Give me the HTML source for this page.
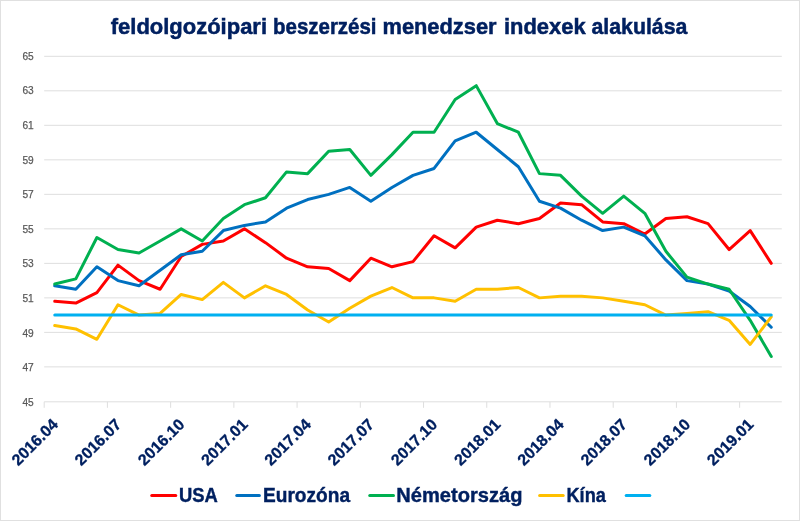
<!DOCTYPE html>
<html><head><meta charset="utf-8"><title>feldolgozóipari beszerzési menedzser indexek alakulása</title>
<style>
html,body{margin:0;padding:0;background:#fff;}
body{width:800px;height:521px;overflow:hidden;}
svg{display:block;font-family:"Liberation Sans",sans-serif;will-change:transform;}
.yl{font-size:11px;fill:#595959;stroke:#595959;stroke-width:0.25px;}
.xl{font-size:16px;font-weight:bold;fill:#002060;stroke:#002060;stroke-width:0.3px;}
.lg{font-size:20.5px;font-weight:bold;fill:#002060;stroke:#002060;stroke-width:0.4px;}
.tt{font-size:22.5px;font-weight:bold;fill:#002060;stroke:#002060;stroke-width:0.5px;}
</style></head><body>
<svg width="800" height="521" viewBox="0 0 800 521">
<rect x="0" y="0" width="800" height="521" fill="#fff"/>
<rect x="0.5" y="0.5" width="799" height="520" fill="none" stroke="#e0e0e0" stroke-width="1"/>
<text x="110.75" y="33.5" class="tt" textLength="156.26" lengthAdjust="spacingAndGlyphs">feldolgozóipari</text>
<text x="273.10" y="33.5" class="tt" textLength="103.43" lengthAdjust="spacingAndGlyphs">beszerzési</text>
<text x="382.50" y="33.5" class="tt" textLength="114.02" lengthAdjust="spacingAndGlyphs">menedzser</text>
<text x="504.00" y="33.5" class="tt" textLength="81.57" lengthAdjust="spacingAndGlyphs">indexek</text>
<text x="591.50" y="33.5" class="tt" textLength="95.81" lengthAdjust="spacingAndGlyphs">alakulása</text>
<line x1="44.20" y1="56.30" x2="781.80" y2="56.30" stroke="#dedede" stroke-width="1"/>
<line x1="44.20" y1="90.81" x2="781.80" y2="90.81" stroke="#dedede" stroke-width="1"/>
<line x1="44.20" y1="125.32" x2="781.80" y2="125.32" stroke="#dedede" stroke-width="1"/>
<line x1="44.20" y1="159.83" x2="781.80" y2="159.83" stroke="#dedede" stroke-width="1"/>
<line x1="44.20" y1="194.34" x2="781.80" y2="194.34" stroke="#dedede" stroke-width="1"/>
<line x1="44.20" y1="228.85" x2="781.80" y2="228.85" stroke="#dedede" stroke-width="1"/>
<line x1="44.20" y1="263.36" x2="781.80" y2="263.36" stroke="#dedede" stroke-width="1"/>
<line x1="44.20" y1="297.87" x2="781.80" y2="297.87" stroke="#dedede" stroke-width="1"/>
<line x1="44.20" y1="332.38" x2="781.80" y2="332.38" stroke="#dedede" stroke-width="1"/>
<line x1="44.20" y1="366.89" x2="781.80" y2="366.89" stroke="#dedede" stroke-width="1"/>
<line x1="44.20" y1="401.80" x2="781.80" y2="401.80" stroke="#dedede" stroke-width="1"/>
<line x1="44.20" y1="401.80" x2="44.20" y2="407.80" stroke="#dedede" stroke-width="1"/>
<line x1="107.42" y1="401.80" x2="107.42" y2="407.80" stroke="#dedede" stroke-width="1"/>
<line x1="170.65" y1="401.80" x2="170.65" y2="407.80" stroke="#dedede" stroke-width="1"/>
<line x1="233.87" y1="401.80" x2="233.87" y2="407.80" stroke="#dedede" stroke-width="1"/>
<line x1="297.09" y1="401.80" x2="297.09" y2="407.80" stroke="#dedede" stroke-width="1"/>
<line x1="360.31" y1="401.80" x2="360.31" y2="407.80" stroke="#dedede" stroke-width="1"/>
<line x1="423.54" y1="401.80" x2="423.54" y2="407.80" stroke="#dedede" stroke-width="1"/>
<line x1="486.76" y1="401.80" x2="486.76" y2="407.80" stroke="#dedede" stroke-width="1"/>
<line x1="549.98" y1="401.80" x2="549.98" y2="407.80" stroke="#dedede" stroke-width="1"/>
<line x1="613.21" y1="401.80" x2="613.21" y2="407.80" stroke="#dedede" stroke-width="1"/>
<line x1="676.43" y1="401.80" x2="676.43" y2="407.80" stroke="#dedede" stroke-width="1"/>
<line x1="739.65" y1="401.80" x2="739.65" y2="407.80" stroke="#dedede" stroke-width="1"/>
<text x="33.7" y="59.70" text-anchor="end" class="yl" textLength="11.3" lengthAdjust="spacingAndGlyphs">65</text>
<text x="33.7" y="94.30" text-anchor="end" class="yl" textLength="11.3" lengthAdjust="spacingAndGlyphs">63</text>
<text x="33.7" y="128.90" text-anchor="end" class="yl" textLength="11.3" lengthAdjust="spacingAndGlyphs">61</text>
<text x="33.7" y="163.50" text-anchor="end" class="yl" textLength="11.3" lengthAdjust="spacingAndGlyphs">59</text>
<text x="33.7" y="198.10" text-anchor="end" class="yl" textLength="11.3" lengthAdjust="spacingAndGlyphs">57</text>
<text x="33.7" y="232.70" text-anchor="end" class="yl" textLength="11.3" lengthAdjust="spacingAndGlyphs">55</text>
<text x="33.7" y="267.30" text-anchor="end" class="yl" textLength="11.3" lengthAdjust="spacingAndGlyphs">53</text>
<text x="33.7" y="301.90" text-anchor="end" class="yl" textLength="11.3" lengthAdjust="spacingAndGlyphs">51</text>
<text x="33.7" y="336.50" text-anchor="end" class="yl" textLength="11.3" lengthAdjust="spacingAndGlyphs">49</text>
<text x="33.7" y="371.10" text-anchor="end" class="yl" textLength="11.3" lengthAdjust="spacingAndGlyphs">47</text>
<text x="33.7" y="405.70" text-anchor="end" class="yl" textLength="11.3" lengthAdjust="spacingAndGlyphs">45</text>
<polyline points="54.74,301.32 75.81,303.05 96.89,292.69 117.96,265.09 139.03,280.62 160.11,289.24 181.18,256.46 202.26,244.38 223.33,240.93 244.41,228.85 265.48,242.65 286.55,258.18 307.63,266.81 328.70,268.54 349.78,280.62 370.85,258.18 391.93,266.81 413.00,261.63 434.07,235.75 455.15,247.83 476.22,227.12 497.30,220.22 518.37,223.67 539.45,218.50 560.52,202.97 581.59,204.69 602.67,221.95 623.74,223.67 644.82,234.03 665.89,218.50 686.97,216.77 708.04,223.67 729.11,249.56 750.19,230.58 771.26,263.36" fill="none" stroke="#ff0000" stroke-width="3" stroke-linejoin="round" stroke-linecap="round"/>
<polyline points="54.74,285.79 75.81,289.24 96.89,266.81 117.96,280.62 139.03,285.79 160.11,270.26 181.18,254.73 202.26,251.28 223.33,230.58 244.41,225.40 265.48,221.95 286.55,208.14 307.63,199.52 328.70,194.34 349.78,187.44 370.85,201.24 391.93,187.44 413.00,175.36 434.07,168.46 455.15,140.85 476.22,132.22 497.30,149.48 518.37,166.73 539.45,201.24 560.52,208.14 581.59,220.22 602.67,230.58 623.74,227.12 644.82,235.75 665.89,259.91 686.97,280.62 708.04,284.07 729.11,290.97 750.19,306.50 771.26,327.20" fill="none" stroke="#0070c0" stroke-width="3" stroke-linejoin="round" stroke-linecap="round"/>
<polyline points="54.74,284.07 75.81,278.89 96.89,237.48 117.96,249.56 139.03,253.01 160.11,240.93 181.18,228.85 202.26,240.93 223.33,218.50 244.41,204.69 265.48,197.79 286.55,171.91 307.63,173.63 328.70,151.20 349.78,149.48 370.85,175.36 391.93,154.65 413.00,132.22 434.07,132.22 455.15,99.44 476.22,85.63 497.30,123.59 518.37,132.22 539.45,173.63 560.52,175.36 581.59,196.07 602.67,213.32 623.74,196.07 644.82,213.32 665.89,251.28 686.97,277.16 708.04,284.07 729.11,289.24 750.19,320.30 771.26,356.54" fill="none" stroke="#00b050" stroke-width="3" stroke-linejoin="round" stroke-linecap="round"/>
<polyline points="54.74,325.48 75.81,328.93 96.89,339.28 117.96,304.77 139.03,315.12 160.11,313.40 181.18,294.42 202.26,299.60 223.33,282.34 244.41,297.87 265.48,285.79 286.55,294.42 307.63,309.95 328.70,322.03 349.78,308.22 370.85,296.14 391.93,287.52 413.00,297.87 434.07,297.87 455.15,301.32 476.22,289.24 497.30,289.24 518.37,287.52 539.45,297.87 560.52,296.14 581.59,296.14 602.67,297.87 623.74,301.32 644.82,304.77 665.89,315.12 686.97,313.40 708.04,311.67 729.11,320.30 750.19,344.46 771.26,316.85" fill="none" stroke="#ffc000" stroke-width="3" stroke-linejoin="round" stroke-linecap="round"/>
<polyline points="54.74,315.12 75.81,315.12 96.89,315.12 117.96,315.12 139.03,315.12 160.11,315.12 181.18,315.12 202.26,315.12 223.33,315.12 244.41,315.12 265.48,315.12 286.55,315.12 307.63,315.12 328.70,315.12 349.78,315.12 370.85,315.12 391.93,315.12 413.00,315.12 434.07,315.12 455.15,315.12 476.22,315.12 497.30,315.12 518.37,315.12 539.45,315.12 560.52,315.12 581.59,315.12 602.67,315.12 623.74,315.12 644.82,315.12 665.89,315.12 686.97,315.12 708.04,315.12 729.11,315.12 750.19,315.12 771.26,315.12" fill="none" stroke="#00b0f0" stroke-width="3" stroke-linejoin="round" stroke-linecap="round"/>
<text transform="translate(59.04,425.50) rotate(-45)" text-anchor="end" class="xl">2016.04</text>
<text transform="translate(122.26,425.50) rotate(-45)" text-anchor="end" class="xl">2016.07</text>
<text transform="translate(185.48,425.50) rotate(-45)" text-anchor="end" class="xl">2016.10</text>
<text transform="translate(248.71,425.50) rotate(-45)" text-anchor="end" class="xl">2017.01</text>
<text transform="translate(311.93,425.50) rotate(-45)" text-anchor="end" class="xl">2017.04</text>
<text transform="translate(375.15,425.50) rotate(-45)" text-anchor="end" class="xl">2017.07</text>
<text transform="translate(438.37,425.50) rotate(-45)" text-anchor="end" class="xl">2017.10</text>
<text transform="translate(501.60,425.50) rotate(-45)" text-anchor="end" class="xl">2018.01</text>
<text transform="translate(564.82,425.50) rotate(-45)" text-anchor="end" class="xl">2018.04</text>
<text transform="translate(628.04,425.50) rotate(-45)" text-anchor="end" class="xl">2018.07</text>
<text transform="translate(691.27,425.50) rotate(-45)" text-anchor="end" class="xl">2018.10</text>
<text transform="translate(754.49,425.50) rotate(-45)" text-anchor="end" class="xl">2019.01</text>
<line x1="151.75" y1="495.40" x2="175.75" y2="495.40" stroke="#ff0000" stroke-width="3" stroke-linecap="round"/>
<text x="178.90" y="502.1" class="lg" textLength="38.86" lengthAdjust="spacingAndGlyphs">USA</text>
<line x1="236.75" y1="495.40" x2="259.40" y2="495.40" stroke="#0070c0" stroke-width="3" stroke-linecap="round"/>
<text x="263.00" y="502.1" class="lg" textLength="87.04" lengthAdjust="spacingAndGlyphs">Eurozóna</text>
<line x1="369.75" y1="495.40" x2="393.50" y2="495.40" stroke="#00b050" stroke-width="3" stroke-linecap="round"/>
<text x="396.30" y="502.1" class="lg" textLength="126.12" lengthAdjust="spacingAndGlyphs">Németország</text>
<line x1="539.60" y1="495.40" x2="563.20" y2="495.40" stroke="#ffc000" stroke-width="3" stroke-linecap="round"/>
<text x="566.50" y="502.1" class="lg" textLength="39.31" lengthAdjust="spacingAndGlyphs">Kína</text>
<line x1="626.20" y1="495.40" x2="649.80" y2="495.40" stroke="#00b0f0" stroke-width="3" stroke-linecap="round"/>
</svg>
</body></html>
